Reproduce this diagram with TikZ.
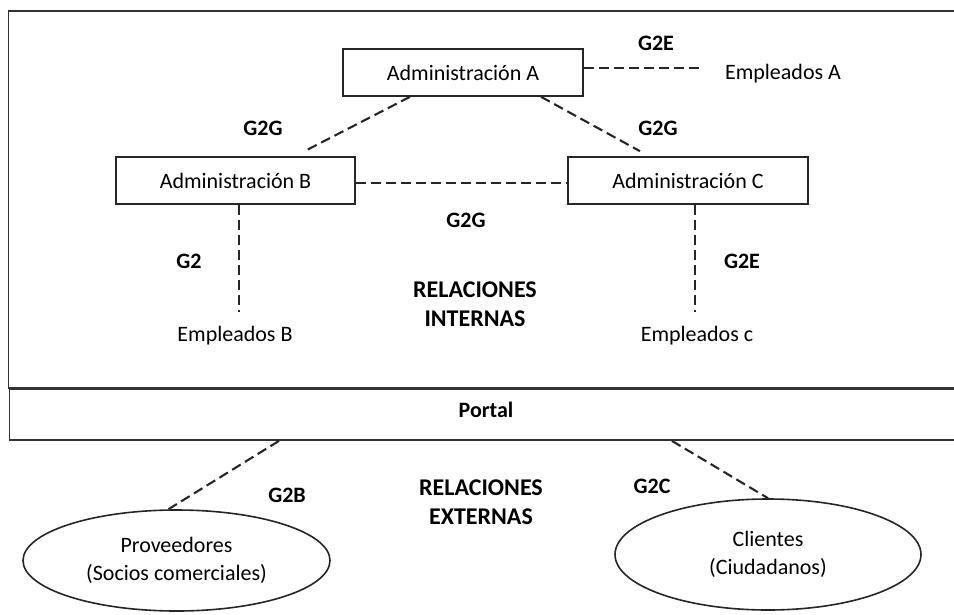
\documentclass[tikz,border=0pt]{standalone}
\usepackage{fontspec}
\setmainfont{Carlito}
\usetikzlibrary{shapes.geometric}
\begin{document}
\begin{tikzpicture}[x=1pt,y=-1pt,
  every node/.style={font=\fontsize{22}{28}\selectfont, text=black},
  adminbox/.style={draw=black!85, line width=1.6pt, minimum width=240pt, minimum height=47pt, inner sep=0pt},
  ovalbox/.style={draw=black!85, line width=1.6pt, ellipse, inner sep=0pt, align=center},
  lbl/.style={font=\bfseries\fontsize{22}{28}\selectfont},
  biglbl/.style={font=\bfseries\fontsize{24}{29}\selectfont, align=center},
  dashline/.style={draw=black!85, line width=2.1pt, dash pattern=on 10pt off 5pt},
  frame/.style={draw=black!80, line width=1.9pt}]
\useasboundingbox (0,0) rectangle (954,614);
% outer frame and portal
\draw[frame] (8.5,10.7) rectangle (970,388);
\node[frame, minimum width=955pt, minimum height=51pt, inner sep=0pt, anchor=north west] (portal) at (8.5,388) {};
\node[lbl] (portaltxt) at (486,410) {Portal};
% administrations
\node[adminbox] (A) at (463,72.5) {Administración A};
\node[adminbox, minimum width=239pt] (B) at (235.5,180.5) {Administración B};
\node[adminbox] (C) at (688,180.5) {Administración C};
% employees
\node (EA) at (783,74) {Empleados A};
\node (EB) at (235,336) {Empleados B};
\node (EC) at (697,336) {Empleados c};
% external
\node[ovalbox, minimum width=307pt, minimum height=101pt] (P) at (176.5,560.5) {Proveedores\\(Socios comerciales)};
\node[ovalbox, minimum width=306pt, minimum height=111pt] (K) at (768,554.5) {Clientes\\(Ciudadanos)};
% labels
\node[lbl] (l1) at (656,43) {G2E};
\node[lbl] (l2) at (263,128) {G2G};
\node[lbl] (l3) at (658,128) {G2G};
\node[lbl] (l4) at (466,220) {G2G};
\node[lbl] (l5) at (189,261) {G2};
\node[lbl] (l6) at (742,261) {G2E};
\node[biglbl] (ri) at (475,304) {RELACIONES\\INTERNAS};
\node[biglbl] (re) at (481,502) {RELACIONES\\EXTERNAS};
\node[lbl] (l7) at (287,495) {G2B};
\node[lbl] (l8) at (652,486) {G2C};
% connectors
\draw[dashline] ([yshift=4.5pt]A.east) -- ([xshift=-19pt,yshift=6pt]EA.west);
\draw[dashline] ([xshift=-53pt]A.south) -- ([xshift=69pt,yshift=5pt]B.north);
\draw[dashline] ([xshift=78pt]A.south) -- ([xshift=-48pt,yshift=5pt]C.north);
\draw[dashline] ([yshift=-2.5pt]B.east) -- ([yshift=-2.5pt]C.west);
\draw[dashline] ([xshift=3.5pt]B.south) -- ([xshift=3.5pt]B.south |- 0,312);
\draw[dashline] ([xshift=7pt]C.south) -- ([xshift=7pt]C.south |- 0,312);
\draw[dashline] ([xshift=-208pt]portal.south) -- ([xshift=-8pt]P.north);
\draw[dashline] ([xshift=185pt]portal.south) -- (K.north);
\end{tikzpicture}
\end{document}
